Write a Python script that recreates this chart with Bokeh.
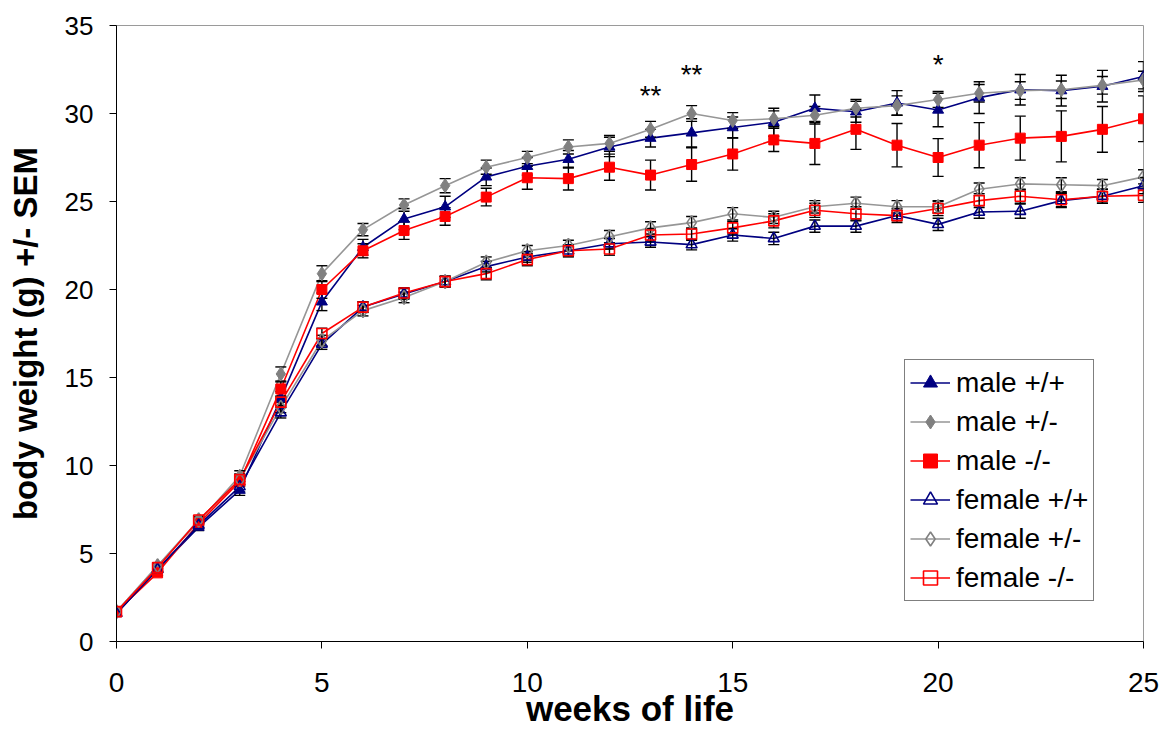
from bokeh.plotting import figure
from bokeh.models import Legend, LegendItem, FixedTicker, Range1d
from bokeh.core.properties import value
from bokeh.embed import file_html
from bokeh.resources import INLINE

# ---------------- data ----------------
weeks = list(range(26))

male_wt = [1.6, 4.1, 6.5, 8.6, 13.8, 19.3, 22.4, 24.0, 24.7, 26.4, 27.0, 27.4, 28.1, 28.6, 28.9,
           29.2, 29.5, 30.3, 30.1, 30.6, 30.2, 30.9, 31.35, 31.3, 31.55, 32.1]
male_wt_sem = [0.1, 0.15, 0.2, 0.3, 0.4, 0.5, 0.45, 0.6, 0.6, 0.5, 0.5, 0.5, 0.55, 0.5, 0.8,
               0.6, 0.8, 0.75, 0.6, 0.7, 0.95, 0.9, 0.87, 0.87, 0.9, 0.85]

male_het = [1.7, 4.3, 6.8, 9.4, 15.2, 20.9, 23.4, 24.8, 25.9, 26.95, 27.5, 28.1, 28.3, 29.1, 30.0,
            29.6, 29.7, 29.9, 30.3, 30.45, 30.8, 31.15, 31.3, 31.35, 31.6, 31.9]
male_het_sem = [0.1, 0.15, 0.2, 0.3, 0.4, 0.45, 0.35, 0.35, 0.4, 0.4, 0.35, 0.4, 0.45, 0.45, 0.45,
                0.45, 0.45, 0.5, 0.5, 0.55, 0.45, 0.5, 0.5, 0.5, 0.5, 0.5]

male_ko = [1.7, 3.9, 6.7, 9.1, 14.35, 20.0, 22.2, 23.35, 24.15, 25.25, 26.35, 26.3, 26.95, 26.5, 27.1,
           27.7, 28.5, 28.3, 29.1, 28.2, 27.5, 28.2, 28.6, 28.7, 29.1, 29.7]
male_ko_sem = [0.1, 0.15, 0.2, 0.3, 0.4, 0.5, 0.4, 0.5, 0.5, 0.5, 0.65, 0.65, 0.74, 0.85, 0.95,
               0.92, 0.66, 1.2, 1.14, 1.23, 1.07, 1.28, 1.25, 1.45, 1.3, 1.3]

female_wt = [1.6, 4.1, 6.6, 8.8, 13.0, 16.9, 19.0, 19.75, 20.45, 21.3, 21.85, 22.2, 22.6, 22.7, 22.55,
             23.1, 22.9, 23.6, 23.6, 24.2, 23.7, 24.4, 24.45, 25.05, 25.3, 25.9]
female_wt_sem = [0.1, 0.15, 0.2, 0.3, 0.3, 0.3, 0.3, 0.3, 0.3, 0.3, 0.3, 0.3, 0.3, 0.3, 0.3,
                 0.35, 0.35, 0.35, 0.35, 0.3, 0.35, 0.35, 0.4, 0.4, 0.4, 0.45]

female_het = [1.7, 4.3, 6.9, 9.2, 13.3, 17.1, 18.8, 19.55, 20.45, 21.55, 22.2, 22.5, 23.0, 23.5, 23.8,
              24.3, 24.1, 24.7, 24.9, 24.7, 24.7, 25.7, 26.0, 25.95, 25.9, 26.4]
female_het_sem = [0.1, 0.15, 0.2, 0.3, 0.3, 0.3, 0.3, 0.3, 0.3, 0.3, 0.3, 0.3, 0.35, 0.35, 0.35,
                  0.35, 0.35, 0.35, 0.35, 0.35, 0.35, 0.35, 0.35, 0.4, 0.35, 0.4]

female_ko = [1.7, 4.2, 6.9, 9.2, 13.6, 17.5, 19.0, 19.8, 20.45, 20.9, 21.7, 22.2, 22.3, 23.1, 23.15,
             23.5, 23.9, 24.5, 24.3, 24.2, 24.6, 25.05, 25.3, 25.1, 25.3, 25.35]
female_ko_sem = [0.1, 0.15, 0.2, 0.3, 0.3, 0.3, 0.3, 0.3, 0.3, 0.35, 0.35, 0.35, 0.35, 0.35, 0.35,
                 0.35, 0.4, 0.4, 0.4, 0.4, 0.4, 0.4, 0.4, 0.4, 0.4, 0.4]

series_labels = ["male +/+", "male +/-", "male -/-", "female +/+", "female +/-", "female -/-"]

# significance marks
sig_weeks = [13, 14, 20]
sig_level = [31.0, 32.2, 32.8]
sig_text = ["**", "**", "*"]

x_ticks = [0, 5, 10, 15, 20, 25]
y_ticks = [0, 5, 10, 15, 20, 25, 30, 35]

FONT = "Liberation Sans"
NAVY = "#000080"
GRAY_LINE = "#969696"
GRAY_MARK = "#808080"
RED = "#FF0000"

p = figure(width=1165, height=747, output_backend="svg", toolbar_location=None,
           x_range=Range1d(0, 25), y_range=Range1d(0, 35),
           min_border_left=116, min_border_right=22, min_border_top=25, min_border_bottom=106,
           background_fill_color="white", border_fill_color="white")

p.xgrid.visible = False
p.ygrid.visible = False
p.outline_line_color = "#9a9a9a"
p.outline_line_width = 1

p.xaxis.ticker = FixedTicker(ticks=x_ticks)
p.yaxis.ticker = FixedTicker(ticks=y_ticks)
for ax in (p.xaxis, p.yaxis):
    ax.axis_line_color = "black"
    ax.axis_line_width = 1
    ax.major_tick_line_color = "black"
    ax.major_tick_in = 0
    ax.major_tick_out = 7
    ax.minor_tick_line_color = None
    ax.major_label_text_font = FONT
    ax.major_label_text_color = "black"
    ax.axis_label_text_font = FONT
    ax.axis_label_text_font_style = "bold"
    ax.axis_label_text_color = "black"

p.xaxis.major_label_text_font_size = "28px"
p.yaxis.major_label_text_font_size = "26px"
p.xaxis.axis_label_text_font_size = "35px"
p.yaxis.axis_label_text_font_size = "33px"

p.xaxis.axis_label = "weeks of life"
p.yaxis.axis_label = "body weight (g) +/- SEM"
p.xaxis.major_label_standoff = 24
p.yaxis.major_label_standoff = 16
p.xaxis.axis_label_standoff = -6
p.yaxis.axis_label_standoff = 18

specs = [
    (male_wt, male_wt_sem, NAVY, NAVY, "triangle", True),
    (male_het, male_het_sem, GRAY_LINE, GRAY_MARK, "diamond", True),
    (male_ko, male_ko_sem, RED, RED, "square", True),
    (female_wt, female_wt_sem, NAVY, NAVY, "triangle", False),
    (female_het, female_het_sem, GRAY_LINE, GRAY_MARK, "diamond", False),
    (female_ko, female_ko_sem, RED, RED, "square", False),
]
msize = {"triangle": 11, "diamond": 14, "square": 10}

# lines
line_r = []
for vals, sem, lc, mc, mk, filled in specs:
    line_r.append(p.line(weeks, vals, line_color=lc, line_width=1.6))

# error bars
for vals, sem, lc, mc, mk, filled in specs:
    up = [v + s for v, s in zip(vals, sem)]
    lo = [v - s for v, s in zip(vals, sem)]
    p.segment(x0=weeks, y0=lo, x1=weeks, y1=up, line_color="black", line_width=1.4)
    p.scatter(weeks, up, marker="dash", size=11, line_color="black", line_width=1.4)
    p.scatter(weeks, lo, marker="dash", size=11, line_color="black", line_width=1.4)

# markers
mark_r = []
for vals, sem, lc, mc, mk, filled in specs:
    if filled:
        r = p.scatter(weeks, vals, marker=mk, size=msize[mk], fill_color=mc, line_color=mc, line_width=1)
    else:
        r = p.scatter(weeks, vals, marker=mk, size=msize[mk], fill_alpha=0, line_color=mc, line_width=1.6)
    mark_r.append(r)

# significance asterisks
p.text(x=sig_weeks, y=sig_level, text=sig_text, text_font=value(FONT), text_font_size="28px",
       text_align="center", text_baseline="alphabetic", text_color="black")

items = [LegendItem(label=lab, renderers=[lr, mr]) for lab, lr, mr in zip(series_labels, line_r, mark_r)]

legend = Legend(items=items, location=(788, 40), border_line_color="black", border_line_width=1,
                background_fill_color="white", background_fill_alpha=1,
                label_text_font=FONT, label_text_font_size="28px", label_text_color="black",
                glyph_width=40, glyph_height=35, label_height=35, spacing=4, padding=5, margin=0,
                label_standoff=6)
p.add_layout(legend)

open("out.html", "w").write(file_html(p, INLINE))
